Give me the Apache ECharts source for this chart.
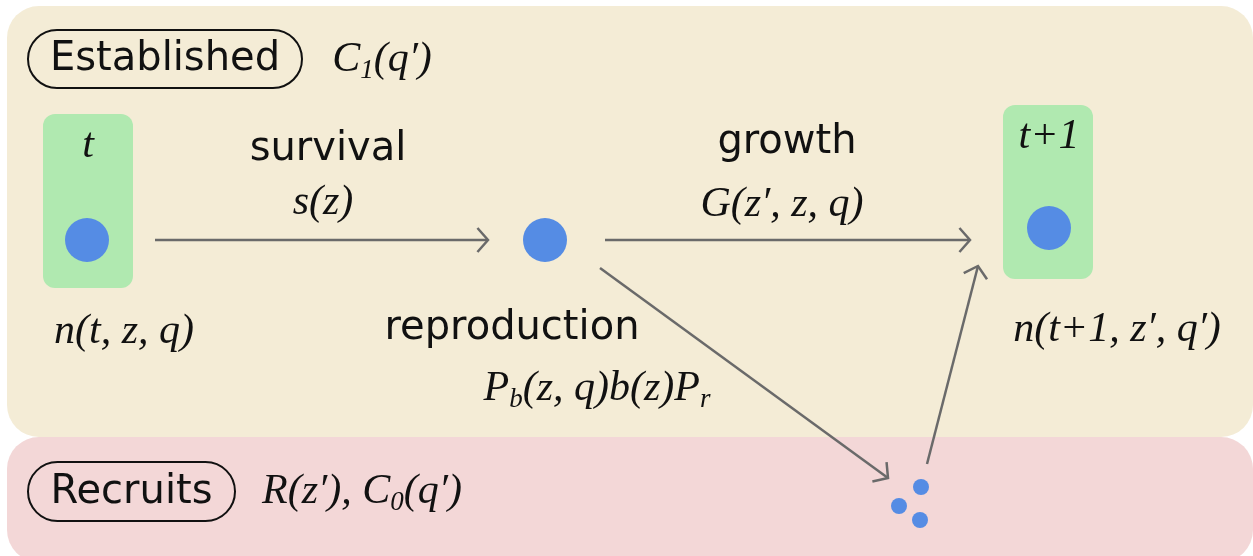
<!DOCTYPE html>
<html>
<head>
<meta charset="utf-8">
<script src="https://cdn.jsdelivr.net/npm/echarts@6/dist/echarts.min.js"></script>
<style>
  html, body { margin: 0; padding: 0; background: #fff; }
  #main { width: 1253px; height: 556px; }
</style>
</head>
<body>
<div id="main"></div>
<script>
// diagram units: x to the right, y downwards (0..1253, 0..556)
const panelNames = ['Established', 'Recruits'];
const panelBox = [[7, 6, 1253, 437], [7, 437, 1253, 562]];
const panelPill = [[28, 30, 302, 88], [28, 462, 235, 521]];
const panelFormula = ['{i|C}{s|1}{i|(q′)}', '{i|R(z′), C}{s|0}{i|(q′)}'];
const panelFormulaPos = [[382, 60], [362, 492]];

const stageNames = ['t', 't+1'];
const stageBox = [[43, 114, 133, 288], [1003, 105, 1093, 279]];
const stageLabelPos = [[88, 146], [1049, 137]];
const stageDensity = ['n(t, z, q)', 'n(t+1, z′, q′)'];
const stageDensityPos = [[124, 332], [1117, 330]];

// individuals (dots)
const dotX = [87, 545, 1049, 921, 899, 920];
const dotY = [240, 240, 228, 487, 506, 520];
const dotSize = [44, 44, 44, 16, 16, 16];

// transitions
const arrowNames = ['survival', 'growth', 'reproduction', ''];
const arrowFrom = [[155, 240], [605, 240], [600, 268], [927, 464]];
const arrowTo = [[488, 240], [970, 240], [888, 478], [978, 266]];
const arrowFormula = ['{i|s(z)}', '{i|G(z′, z, q)}', '{i|P}{s|b}{i|(z, q)b(z)P}{s|r}', ''];
const arrowLabelPos = [[328, 150], [787, 143], [512, 329], null];
const arrowFormulaPos = [[323, 203], [782, 205], [597, 389], null];

const SANS = 'DejaVu Sans';
const SERIF = 'Liberation Serif';
const rich = {
  i: { fontFamily: SERIF, fontStyle: 'italic', fontSize: 42, fill: '#111' },
  s: { fontFamily: SERIF, fontStyle: 'italic', fontSize: 27, fill: '#111', padding: [22, 0, 0, 0] }
};

function rectRender(fill, radius, stroke) {
  return function (params, api) {
    const p0 = api.coord([api.value(0), api.value(1)]);
    const p1 = api.coord([api.value(2), api.value(3)]);
    return {
      type: 'rect',
      shape: { x: p0[0], y: p0[1], width: p1[0] - p0[0], height: p1[1] - p0[1], r: radius(params.dataIndex, p1[1] - p0[1]) },
      style: stroke ? { fill: 'none', stroke: stroke, lineWidth: 2 } : { fill: fill[params.dataIndex] }
    };
  };
}

const texts = [];
panelNames.forEach((n, i) => {
  const b = panelPill[i];
  texts.push([(b[0] + b[2]) / 2, (b[1] + b[3]) / 2 + 1, n, 'sans']);
  texts.push([panelFormulaPos[i][0], panelFormulaPos[i][1], panelFormula[i], 'rich']);
});
stageNames.forEach((n, i) => {
  texts.push([stageLabelPos[i][0], stageLabelPos[i][1], '{i|' + n + '}', 'rich']);
  texts.push([stageDensityPos[i][0], stageDensityPos[i][1], '{i|' + stageDensity[i] + '}', 'rich']);
});
arrowNames.forEach((n, i) => {
  if (!n) return;
  texts.push([arrowLabelPos[i][0], arrowLabelPos[i][1], n, 'sans']);
  texts.push([arrowFormulaPos[i][0], arrowFormulaPos[i][1], arrowFormula[i], 'rich']);
});

const chart = echarts.init(document.getElementById('main'));
chart.setOption({
  animation: false,
  backgroundColor: '#fff',
  grid: { left: 0, right: 0, top: 0, bottom: 0 },
  xAxis: { type: 'value', min: 0, max: 1253, show: false },
  yAxis: { type: 'value', min: 0, max: 556, inverse: true, show: false },
  series: [
    {
      type: 'custom', z: 1,
      data: panelBox,
      renderItem: rectRender(['#f4ecd6', '#f3d7d7'], () => 32)
    },
    {
      type: 'custom', z: 2,
      data: stageBox,
      renderItem: rectRender(['#b0e9b0', '#b0e9b0'], () => 12)
    },
    {
      type: 'custom', z: 3,
      data: panelPill,
      renderItem: rectRender(null, (i, h) => h / 2, '#111')
    },
    {
      type: 'custom', z: 4,
      data: arrowFrom.map((f, i) => [f[0], f[1], arrowTo[i][0], arrowTo[i][1]]),
      renderItem: function (params, api) {
        const a = api.coord([api.value(0), api.value(1)]);
        const b = api.coord([api.value(2), api.value(3)]);
        const ang = Math.atan2(b[1] - a[1], b[0] - a[0]);
        const len = 16, spread = 0.85;
        const h1 = [b[0] - len * Math.cos(ang - spread), b[1] - len * Math.sin(ang - spread)];
        const h2 = [b[0] - len * Math.cos(ang + spread), b[1] - len * Math.sin(ang + spread)];
        const st = { stroke: '#6a6a6a', lineWidth: 2.5, fill: 'none' };
        return {
          type: 'group',
          children: [
            { type: 'line', shape: { x1: a[0], y1: a[1], x2: b[0], y2: b[1] }, style: st },
            { type: 'polyline', shape: { points: [h1, b, h2] }, style: st }
          ]
        };
      }
    },
    {
      type: 'scatter', z: 5,
      data: dotX.map((x, i) => [x, dotY[i], dotSize[i]]),
      symbol: 'circle',
      symbolSize: v => v[2],
      itemStyle: { color: '#558ce4', opacity: 1 }
    },
    {
      type: 'custom', z: 6,
      data: texts.map(t => [t[0], t[1]]),
      renderItem: function (params, api) {
        const t = texts[params.dataIndex];
        const p = api.coord([api.value(0), api.value(1)]);
        const style = t[3] === 'sans'
          ? { text: t[2], fontFamily: SANS, fontSize: 40, fill: '#111', align: 'center', verticalAlign: 'middle' }
          : { text: t[2], rich: rich, align: 'center', verticalAlign: 'middle' };
        return { type: 'text', x: p[0], y: p[1], style: style };
      }
    }
  ]
});
</script>
</body>
</html>
